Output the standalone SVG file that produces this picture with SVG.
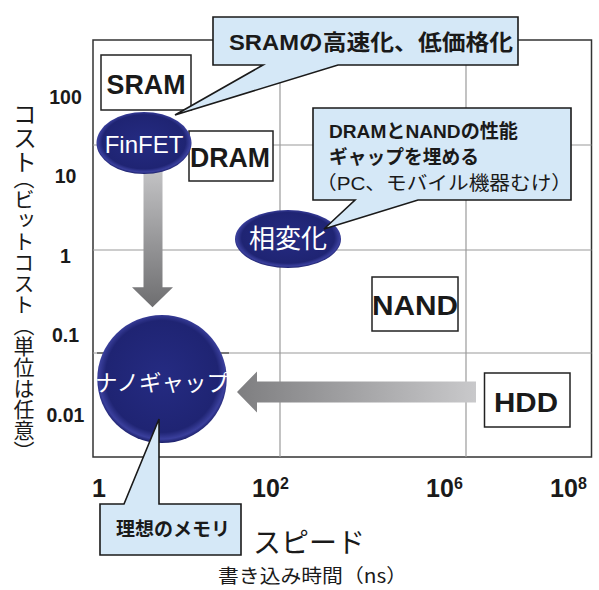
<svg xmlns="http://www.w3.org/2000/svg" width="599" height="590" viewBox="0 0 599 590">
<style>
.frame{fill:none;stroke:#333;stroke-width:1.5}
.grid{stroke:#9a9a9a;stroke-width:1.2}
.box{fill:#fff;stroke:#222;stroke-width:1.5}
.btxt{font-family:"Liberation Sans","Noto Sans",sans-serif;font-weight:bold;font-size:28px;fill:#1a1a1a;text-anchor:middle}
.orbtxt{font-family:"Liberation Sans","Noto Sans CJK JP",sans-serif;fill:#fff;text-anchor:middle}
.call{fill:#d5e8f7;stroke:#1a1a1a;stroke-width:1.6;stroke-linejoin:miter}
.ctxt{font-family:"Liberation Sans","Noto Sans CJK JP",sans-serif;font-weight:bold;fill:#1a1a1a}
.ctxt-n{font-family:"Liberation Sans","Noto Sans CJK JP",sans-serif;font-weight:normal;fill:#1a1a1a}
.tick{font-family:"Liberation Sans",sans-serif;font-weight:bold;fill:#1a1a1a}
.jp{font-family:"Noto Sans CJK JP",sans-serif;fill:#1a1a1a}
.vert{writing-mode:vertical-rl}
</style>
<defs>
<radialGradient id="orb" cx="50%" cy="48%" r="52%">
<stop offset="0" stop-color="#252b82"/>
<stop offset="0.84" stop-color="#1f2473"/>
<stop offset="0.94" stop-color="#3a3f9c"/>
<stop offset="1" stop-color="#1c206a"/>
</radialGradient>
<linearGradient id="vgrad" x1="0" y1="0" x2="0" y2="1">
<stop offset="0" stop-color="#c6c6c8"/>
<stop offset="1" stop-color="#6e6e70"/>
</linearGradient>
<linearGradient id="hgrad" x1="0" y1="0" x2="1" y2="0">
<stop offset="0" stop-color="#7e7e80"/>
<stop offset="1" stop-color="#c9c9cb"/>
</linearGradient>
</defs>

<g id="chart">
<rect class="frame" x="93" y="40" width="498.5" height="417"/>
<line class="grid" x1="280" y1="40" x2="280" y2="457"/>
<line class="grid" x1="466" y1="40" x2="466" y2="457"/>
<line class="grid" x1="93" y1="145" x2="591.5" y2="145"/>
<line class="grid" x1="93" y1="250" x2="591.5" y2="250"/>
<line class="grid" x1="93" y1="353" x2="591.5" y2="353"/>
<line x1="97" y1="353" x2="229" y2="353" stroke="#777" stroke-width="2"/>
</g>

<g id="axis-labels">
<text class="tick" x="65.5" y="104" font-size="19.5" text-anchor="middle">100</text>
<text class="tick" x="65.5" y="183" font-size="19.5" text-anchor="middle">10</text>
<text class="tick" x="65.5" y="263" font-size="19.5" text-anchor="middle">1</text>
<text class="tick" x="65.5" y="342" font-size="19.5" text-anchor="middle">0.1</text>
<text class="tick" x="65.5" y="422" font-size="19.5" text-anchor="middle">0.01</text>
<text class="tick" x="99" y="497" font-size="25" text-anchor="middle">1</text>
<text class="tick" x="252" y="497" font-size="25">10</text>
<text class="tick" x="280" y="489" font-size="16">2</text>
<text class="tick" x="426" y="497" font-size="25">10</text>
<text class="tick" x="454" y="489" font-size="16">6</text>
<text class="tick" x="550" y="497" font-size="25">10</text>
<text class="tick" x="578" y="489" font-size="16">8</text>
<text class="jp vert" x="25" y="102" font-size="24">コスト</text>
<text class="jp vert" x="24" y="168" font-size="21">（ビットコスト（単位は任意）</text>
<text class="jp" x="253" y="553" font-size="28">スピード</text>
<text class="jp" x="218" y="583" font-size="19" textLength="189" lengthAdjust="spacingAndGlyphs">書き込み時間（ns）</text>
</g>

<g id="SRAM">
<rect class="box" x="101" y="55" width="90" height="55"/>
<text class="btxt" x="146" y="94" textLength="79" lengthAdjust="spacingAndGlyphs">SRAM</text>
</g>
<g id="DRAM">
<rect class="box" x="189" y="131" width="84" height="50"/>
<text class="btxt" x="230" y="166.5" textLength="80" lengthAdjust="spacingAndGlyphs">DRAM</text>
</g>
<g id="NAND">
<rect class="box" x="372" y="277" width="86" height="54"/>
<text class="btxt" x="415" y="315" textLength="86" lengthAdjust="spacingAndGlyphs">NAND</text>
</g>
<g id="HDD">
<rect class="box" x="484.5" y="373" width="85.5" height="54"/>
<text class="btxt" x="526" y="412" textLength="64" lengthAdjust="spacingAndGlyphs">HDD</text>
</g>

<g id="connectors">
<path d="M143.5,165 H162.5 V287.3 H173 L152.5,307.3 L132,287.3 H143.5 Z" fill="url(#vgrad)"/>
<path d="M476,381.5 H257 V371.5 L237,392 L257,412.5 V402.5 H476 Z" fill="url(#hgrad)"/>
</g>

<g id="FinFET">
<ellipse cx="144" cy="143" rx="47.5" ry="31" fill="url(#orb)"/>
<text class="orbtxt" x="144" y="153" font-size="24">FinFET</text>
</g>
<g id="phase-change">
<ellipse cx="288" cy="239" rx="53" ry="29" fill="url(#orb)"/>
<text class="orbtxt" x="288" y="248" font-size="26" font-family="Noto Sans CJK JP">相変化</text>
</g>
<g id="nanogap">
<ellipse cx="162" cy="379" rx="64.7" ry="64" fill="url(#orb)"/>
<text class="orbtxt" x="162" y="391" font-size="22.5" font-family="Noto Sans CJK JP">ナノギャップ</text>
</g>

<g id="callout-sram">
<path class="call" d="M213,17 H518 V65 H338 L175,115 L263,65 H213 Z"/>
<text class="ctxt" x="229" y="50" font-size="22" textLength="284" lengthAdjust="spacingAndGlyphs">SRAMの高速化、低価格化</text>
</g>
<g id="callout-gap">
<path class="call" d="M313,108 H571 V200 H418 L324,229 L355,200 H313 Z"/>
<text class="ctxt" x="329" y="138" font-size="19" textLength="189" lengthAdjust="spacingAndGlyphs">DRAMとNANDの性能</text>
<text class="ctxt" x="329" y="164" font-size="19" textLength="150" lengthAdjust="spacingAndGlyphs">ギャップを埋める</text>
<text class="ctxt-n" x="316" y="190" font-size="19" textLength="256" lengthAdjust="spacingAndGlyphs">（PC、モバイル機器むけ）</text>
</g>
<g id="callout-ideal">
<path class="call" d="M100,504 H124 L159,419 V504 H241 V555 H100 Z"/>
<text class="ctxt" x="116" y="536" font-size="19" textLength="114" lengthAdjust="spacingAndGlyphs">理想のメモリ</text>
</g>
</svg>
